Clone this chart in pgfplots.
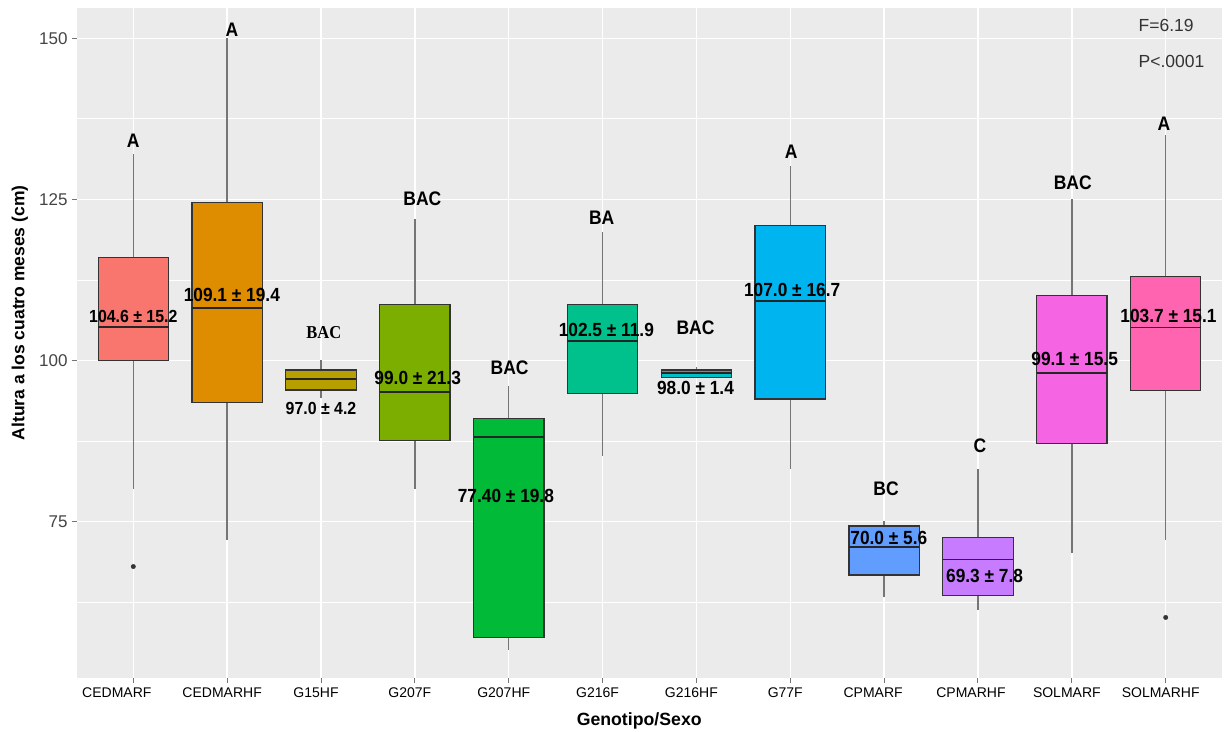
\documentclass[border=0pt]{standalone}
\usepackage{graphicx}
\usepackage{pgfplots}
\pgfplotsset{compat=1.18}
\usepackage{fontspec}
\setmainfont{Liberation Sans}
\newfontfamily\serifbold{Liberation Serif}[BoldFont={Liberation Serif Bold}]

% ggplot2 hue palette for 12 groups
\definecolor{c1}{HTML}{F8766D}
\definecolor{c2}{HTML}{DE8C00}
\definecolor{c3}{HTML}{B79F00}
\definecolor{c4}{HTML}{7CAE00}
\definecolor{c5}{HTML}{00BA38}
\definecolor{c6}{HTML}{00C08B}
\definecolor{c7}{HTML}{00BFC4}
\definecolor{c8}{HTML}{00B4F0}
\definecolor{c9}{HTML}{619CFF}
\definecolor{c10}{HTML}{C77CFF}
\definecolor{c11}{HTML}{F564E3}
\definecolor{c12}{HTML}{FF64B0}
\definecolor{panelbg}{HTML}{EBEBEB}
\definecolor{boxline}{HTML}{333333}
\definecolor{whisk}{HTML}{757575}
\definecolor{ticktext}{HTML}{444444}

% letter groups and mean +/- sd labels (slightly tall type)
\newcommand{\lab}[1]{\scalebox{1}[1.12]{\fontsize{17.5}{20}\selectfont\bfseries #1}}
\newcommand{\mlab}[2][17.3]{\scalebox{1}[1.1]{\fontsize{#1}{20}\selectfont\bfseries #2}}

% one box: #1 position, #2 fill colour, #3 lower whisker, #4 lower quartile,
% #5 median, #6 upper quartile, #7 upper whisker
\newcommand{\gbox}[7]{%
  \pgfmathsetmacro{\bl}{#1-0.375}%
  \pgfmathsetmacro{\br}{#1+0.375}%
  \addplot[whisk, line width=1.4pt] coordinates {(#1,#3) (#1,#4)};
  \addplot[whisk, line width=1.4pt] coordinates {(#1,#6) (#1,#7)};
  \addplot[fill=#2, draw=boxline, line width=1.2pt] coordinates {(\bl,#4) (\br,#4) (\br,#6) (\bl,#6)} -- cycle;
  \addplot[black!85, line width=1.9pt] coordinates {(\bl,#5) (\br,#5)};
}

\begin{document}
\begin{tikzpicture}
\begin{axis}[
  at={(0pt,0pt)}, anchor=south west,
  scale only axis, width=1145pt, height=670pt,
  xmin=0.4, xmax=12.6, ymin=50.7, ymax=154.7,
  axis background/.style={fill=panelbg},
  axis line style={draw=none},
  xtick={1,...,12},
  xticklabels={\kern-23pt CEDMARF,CEDMARHF,G15HF,G207F,G207HF,G216F,G216HF,G77F,\kern-12pt CPMARF,\kern-4pt CPMARHF,SOLMARF,SOLMARHF},
  ytick={75,100,125,150},
  minor ytick={62.5,87.5,112.5,137.5},
  xmajorgrids, ymajorgrids, yminorgrids,
  major grid style={white, line width=1.4pt},
  minor grid style={white, line width=0.7pt},
  tick align=outside, xtick pos=bottom, ytick pos=left,
  major tick length=5pt, minor tick length=0pt,
  tick style={whisk, line width=1pt},
  /pgf/number format/assume math mode=true,
  yticklabel style={font=\fontsize{17}{20}\selectfont, text=ticktext, xshift=-1pt},
  xticklabel style={font=\fontsize{14}{17}\selectfont, text=black, xshift=-5pt, yshift=-1pt},
  xlabel={Genotipo/Sexo},
  ylabel={Altura a los cuatro meses (cm)},
  xlabel style={font=\fontsize{17.7}{20}\selectfont\bfseries, at={(axis description cs:0.491,-0.064)}, anchor=center},
  ylabel style={font=\fontsize{17.5}{20}\selectfont\bfseries, at={(axis description cs:-0.0498,0.545)}, anchor=center},
  clip=false,
]

\gbox{1}{c1}{80.1}{100.0}{105.2}{116.0}{132.1}
\gbox{2}{c2}{72.1}{93.5}{108.2}{124.5}{150.0}
\gbox{3}{c3}{94.1}{95.4}{97.1}{98.5}{100.0}
\gbox{4}{c4}{80.1}{87.6}{95.1}{108.7}{122.0}
\gbox{5}{c5}{55.1}{57.0}{88.1}{91.0}{96.0}
\gbox{6}{c6}{85.2}{94.9}{103.0}{108.7}{120.0}
\gbox{7}{c7}{97.2}{97.4}{98.0}{98.5}{99.0}
\gbox{8}{c8}{83.2}{94.0}{109.2}{121.0}{130.1}
\gbox{9}{c9}{63.2}{66.7}{71.0}{74.3}{75.0}
\gbox{10}{c10}{61.2}{63.5}{69.1}{72.5}{83.1}
\gbox{11}{c11}{70.1}{87.1}{98.1}{110.1}{125.0}
\gbox{12}{c12}{72.1}{95.3}{105.1}{113.0}{135.0}

% outliers
\addplot[only marks, mark=*, mark size=2.2pt, draw=boxline, fill=boxline] coordinates {(1,68.0) (12,60.1)};

% group letters
\node at (axis cs:1.00,134.05) {\lab{A}};
\node at (axis cs:2.05,151.3) {\lab{A}};
\node at (axis cs:3.03,104.3) {\scalebox{1}[1.1]{\fontsize{16.5}{19}\selectfont\serifbold\bfseries BAC}};
\node at (axis cs:4.08,125.05) {\lab{BAC}};
\node at (axis cs:5.01,98.9) {\lab{BAC}};
\node at (axis cs:5.99,122.1) {\lab{BA}};
\node at (axis cs:6.99,105.0) {\lab{BAC}};
\node at (axis cs:8.01,132.4) {\lab{A}};
\node at (axis cs:9.02,80.1) {\lab{BC}};
\node at (axis cs:10.02,86.7) {\lab{C}};
\node at (axis cs:11.01,127.5) {\lab{BAC}};
\node at (axis cs:11.98,136.7) {\lab{A}};

% mean +/- sd
\node at (axis cs:1.00,106.8) {\mlab[15.9]{104.6 ± 15.2}};
\node at (axis cs:2.05,110.1) {\mlab{109.1 ± 19.4}};
\node at (axis cs:3.00,92.6) {\mlab[15.9]{97.0 ± 4.2}};
\node at (axis cs:4.03,97.3) {\mlab{99.0 ± 21.3}};
\node at (axis cs:4.97,79.0) {\mlab{77.40 ± 19.8}};
\node at (axis cs:6.04,104.7) {\mlab{102.5 ± 11.9}};
\node at (axis cs:6.99,95.75) {\mlab{98.0 ± 1.4}};
\node at (axis cs:8.02,110.9) {\mlab{107.0 ± 16.7}};
\node at (axis cs:9.05,72.4) {\mlab{70.0 ± 5.6}};
\node at (axis cs:10.07,66.5) {\mlab{69.3 ± 7.8}};
\node at (axis cs:11.03,100.3) {\mlab{99.1 ± 15.5}};
\node at (axis cs:12.03,106.9) {\mlab{103.7 ± 15.1}};

% test statistics
\node[anchor=west, text=boxline, font=\fontsize{17.5}{20}\selectfont, inner sep=0pt] at (axis cs:11.71,152.0) {F=6.19};
\node[anchor=west, text=boxline, font=\fontsize{17.5}{20}\selectfont, inner sep=0pt] at (axis cs:11.71,146.4) {P<.0001};
\end{axis}
\pgfresetboundingbox
\useasboundingbox (-77pt,-53pt) rectangle (1148pt,678pt);
\end{tikzpicture}
\end{document}
